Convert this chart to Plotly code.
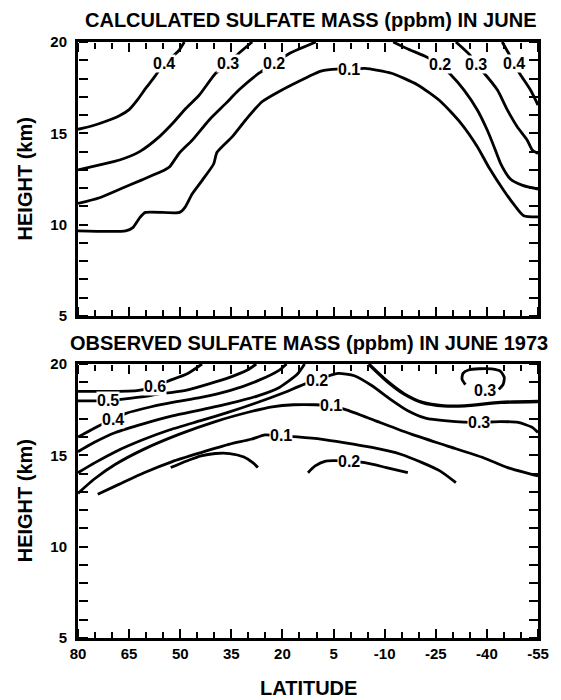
import plotly.graph_objects as go

# ---------------- data ----------------
LAT_TICKS = [80, 65, 50, 35, 20, 5, -10, -25, -40, -55]
LAT_TICK_TEXT = ["80", "65", "50", "35", "20", "5", "-10", "-25", "-40", "-55"]
LAT_MINOR = [v for v in range(80, -56, -5) if v not in LAT_TICKS]
HGT_TICKS = [5, 10, 15, 20]
HGT_MINOR = [v for v in range(5, 21) if v not in HGT_TICKS]

# ---- calculated (top panel) contour lines: latitude / height (km)
CALC_04L_LAT = [80, 76, 72, 68, 65, 62.5, 60, 57.5, 54.8, 52, 50.3, 48.8]
CALC_04L_HGT = [15.22, 15.4, 15.65, 15.95, 16.3, 16.85, 17.5, 18.1, 18.8, 19.25, 19.56, 20.0]
CALC_03L_LAT = [80, 73, 67.8, 61.9, 56.1, 52.2, 48.3, 44.4, 39.6, 36.1, 32.8, 28.9]
CALC_03L_HGT = [13.0, 13.3, 13.54, 14.0, 14.82, 15.55, 16.37, 17.1, 18.29, 18.8, 19.38, 20.0]
CALC_02L_LAT = [80, 73.9, 67.6, 61.4, 54.6, 53.1, 50.3, 46.4, 41.5, 36.6, 32.8, 26.9, 22.5, 18.1, 10.2]
CALC_02L_HGT = [11.16, 11.46, 11.95, 12.44, 12.99, 13.17, 13.91, 14.64, 15.73, 16.64, 17.37, 18.29, 18.8, 19.36, 20.0]
CALC_01_LAT = [80, 66.0, 63.9, 61.8, 60.2, 50.2, 48.6, 46.5, 43.5, 40.2, 39.2, 34.7, 30.8, 26.0,
               21.1, 12.4, 8.7, 4.0, 0.5, -4.2, -12.0, -19.7, -26.5, -32.4, -37.2, -40.7,
               -45.0, -48.2, -50.8, -55]
CALC_01_HGT = [9.66, 9.66, 9.84, 10.4, 10.67, 10.67, 10.95, 11.68, 12.44, 13.32, 13.96, 14.82, 15.73, 16.73,
               17.28, 18.1, 18.41, 18.52, 18.5, 18.56, 18.29, 17.65, 16.73, 15.55, 14.27, 13.1,
               11.86, 11.04, 10.49, 10.43]
CALC_02R_LAT = [-12.5, -17, -21.7, -26.3, -29.0, -33.3, -37.2, -40.1, -42.1, -44.0, -46.9, -50.5, -55]
CALC_02R_HGT = [20.0, 19.6, 19.23, 18.75, 18.29, 17.37, 16.28, 15.18, 14.27, 13.36, 12.5, 12.15, 11.95]
CALC_03R_LAT = [-30.9, -35.0, -36.9, -39.2, -43.1, -46.0, -48.9, -51.8, -53.3, -55]
CALC_03R_HGT = [20.0, 19.29, 18.75, 18.29, 17.37, 16.28, 15.36, 14.64, 14.09, 13.9]
CALC_04R_LAT = [-44.5, -46.9, -47.9, -49.9, -52.8, -55]
CALC_04R_HGT = [20.0, 19.2, 18.8, 18.19, 17.37, 16.55]

CALC_LABEL_TEXT = ["0.4", "0.3", "0.2", "0.1", "0.2", "0.3", "0.4"]
CALC_LABEL_LAT = [54.8, 36.1, 22.5, 0.5, -26.3, -36.9, -47.9]
CALC_LABEL_HGT = [18.8, 18.8, 18.8, 18.5, 18.75, 18.75, 18.8]

# ---- observed (bottom panel) contour lines
OBS_06_LAT = [80, 62.7, 57.5, 53.8, 48.1, 43.6]
OBS_06_HGT = [18.5, 18.54, 18.76, 19.05, 19.45, 20.0]
OBS_05_LAT = [80, 75.8, 71.1, 66.9, 60.6, 55.4, 52.3, 48.1, 41.8, 35.5, 30.3, 27.7]
OBS_05_HGT = [17.98, 17.98, 17.98, 18.08, 18.21, 18.39, 18.45, 18.57, 18.9, 19.27, 19.67, 20.0]
OBS_04_LAT = [80, 75.1, 70.1, 65.9, 58.5, 52.3, 43.9, 35.5, 27.2, 20.9, 18.8]
OBS_04_HGT = [16.0, 16.5, 16.95, 17.3, 17.66, 17.9, 18.17, 18.54, 19.09, 19.67, 20.0]
OBS_03_LAT = [80, 75.3, 69, 60.6, 52.3, 43.9, 35.5, 27.2, 20.9, 15.6, 13.5]
OBS_03_HGT = [15.2, 15.7, 16.25, 16.74, 17.16, 17.49, 17.84, 18.26, 18.72, 19.45, 20.0]
OBS_02_LAT = [80, 75, 69, 61, 53, 44, 36, 28, 20, 13.5, 9.9, 6.5, 3.6, -1.1, -6.3, -11.6, -16.8,
              -22.0, -28.3, -37.7, -44.0, -49.2, -53.4, -55]
OBS_02_HGT = [14.05, 14.6, 15.2, 15.85, 16.4, 16.9, 17.35, 17.85, 18.4, 18.9, 19.09, 19.35, 19.49,
              19.36, 18.81, 18.08, 17.44, 17.04, 16.89, 16.8, 16.85, 16.8, 16.52, 16.25]
OBS_TOPR_LAT = [-5.3, -10.5, -15.8, -21.0, -27.3, -33.5, -44.0, -55]
OBS_TOPR_HGT = [20.0, 19.09, 18.35, 17.9, 17.71, 17.71, 17.9, 17.95]
OBS_LOOP_LAT = [-33.7, -32.7, -33.0, -34.6, -37.7, -41.4, -44.0, -45.1, -44.8, -43.5]
OBS_LOOP_HGT = [18.87, 19.18, 19.49, 19.67, 19.74, 19.73, 19.6, 19.27, 18.9, 18.61]
OBS_01U_LAT = [80, 75.3, 69.0, 60.6, 50.2, 39.7, 29.2, 23.0, 16.7, 10.4, 5.7, 1.0, -7.4, -17.8,
               -28.3, -38.8, -46.1, -51.3, -55]
OBS_01U_HGT = [12.92, 13.69, 14.51, 15.34, 16.16, 16.85, 17.4, 17.66, 17.77, 17.77, 17.71, 17.48,
               16.89, 16.16, 15.52, 14.88, 14.33, 14.05, 13.87]
OBS_01L_LAT = [74.2, 68, 60.6, 52.3, 43.9, 35.5, 29.2, 25.1, 20.4, 15.6, 8.3, 2.0, -6.3, -14.7,
               -21.0, -26.2, -30.9]
OBS_01L_HGT = [12.87, 13.41, 14.05, 14.66, 15.15, 15.61, 15.88, 16.12, 16.07, 16.01, 15.88, 15.7,
               15.43, 15.06, 14.6, 14.15, 13.51]
OBS_02A_LAT = [52.8, 48.1, 43.9, 39.7, 35.5, 31.3, 28.7, 27.2]
OBS_02A_HGT = [14.33, 14.69, 14.97, 15.1, 15.1, 14.91, 14.6, 14.33]
OBS_02B_LAT = [12.5, 10.4, 7.3, 0.5, -4.2, -10.5, -16.8]
OBS_02B_HGT = [14.05, 14.42, 14.69, 14.69, 14.6, 14.33, 14.05]

OBS_LABEL_TEXT = ["0.6", "0.5", "0.4", "0.2", "0.1", "0.1", "0.2", "0.3", "0.3"]
OBS_LABEL_LAT = [57.5, 71.1, 69.8, 9.9, 5.7, 20.4, 0.5, -39.3, -37.7]
OBS_LABEL_HGT = [18.76, 17.98, 16.95, 19.09, 17.71, 16.07, 14.69, 18.54, 16.8]

# ---------------- figure ----------------
FONT = "Liberation Sans"
TOP_DOMAIN = [0.5403, 1.0]
BOT_DOMAIN = [0.0, 0.4597]
fig = go.Figure()


def add_line(lat, hgt, panel, width=2.8):
    xa, ya = ("x", "y") if panel == 1 else ("x2", "y2")
    fig.add_trace(go.Scatter(x=lat, y=hgt, mode="lines", xaxis=xa, yaxis=ya,
                             line=dict(color="black", width=width, shape="spline", smoothing=0.6),
                             hoverinfo="skip", showlegend=False))


for la, hg in [(CALC_04L_LAT, CALC_04L_HGT), (CALC_03L_LAT, CALC_03L_HGT),
               (CALC_02L_LAT, CALC_02L_HGT), (CALC_01_LAT, CALC_01_HGT),
               (CALC_02R_LAT, CALC_02R_HGT), (CALC_03R_LAT, CALC_03R_HGT),
               (CALC_04R_LAT, CALC_04R_HGT)]:
    add_line(la, hg, 1)

for la, hg in [(OBS_06_LAT, OBS_06_HGT), (OBS_05_LAT, OBS_05_HGT), (OBS_04_LAT, OBS_04_HGT),
               (OBS_03_LAT, OBS_03_HGT), (OBS_02_LAT, OBS_02_HGT),
               (OBS_LOOP_LAT, OBS_LOOP_HGT), (OBS_01U_LAT, OBS_01U_HGT),
               (OBS_01L_LAT, OBS_01L_HGT), (OBS_02A_LAT, OBS_02A_HGT), (OBS_02B_LAT, OBS_02B_HGT)]:
    add_line(la, hg, 2)
add_line(OBS_TOPR_LAT, OBS_TOPR_HGT, 2, width=3.4)

# empty traces so that every tick-only axis belongs to a drawn subplot
for xa, ya in [("x3", "y"), ("x4", "y"), ("x", "y3"), ("x", "y4"),
               ("x5", "y2"), ("x6", "y2"), ("x2", "y5"), ("x2", "y6")]:
    fig.add_trace(go.Scatter(x=[None], y=[None], xaxis=xa, yaxis=ya, mode="lines",
                             hoverinfo="skip", showlegend=False))

LABELFONT = dict(family=FONT, size=16, color="black", weight="bold")
annotations = []
for t, la, hg in zip(CALC_LABEL_TEXT, CALC_LABEL_LAT, CALC_LABEL_HGT):
    annotations.append(dict(text=t, x=la, y=hg, xref="x", yref="y", showarrow=False,
                            bgcolor="white", borderpad=0, font=LABELFONT))
for t, la, hg in zip(OBS_LABEL_TEXT, OBS_LABEL_LAT, OBS_LABEL_HGT):
    annotations.append(dict(text=t, x=la, y=hg, xref="x2", yref="y2", showarrow=False,
                            bgcolor="white", borderpad=0, font=LABELFONT))

BOLD20 = dict(family=FONT, size=20, color="black", weight="bold")
annotations += [
    dict(text="CALCULATED SULFATE MASS (ppbm) IN JUNE", x=0.505, y=1.0369, xref="paper",
         yref="paper", showarrow=False, xanchor="center", yanchor="middle", font=BOLD20),
    dict(text="OBSERVED SULFATE MASS (ppbm) IN JUNE 1973", x=0.502, y=0.495, xref="paper",
         yref="paper", showarrow=False, xanchor="center", yanchor="middle", font=BOLD20),
    dict(text="HEIGHT (km)", x=-0.1145, y=0.770, xref="paper", yref="paper", showarrow=False,
         textangle=-90, xanchor="center", yanchor="middle", font=BOLD20),
    dict(text="HEIGHT (km)", x=-0.1145, y=0.2299, xref="paper", yref="paper", showarrow=False,
         textangle=-90, xanchor="center", yanchor="middle", font=BOLD20),
    dict(text="LATITUDE", x=0.5, y=-0.0839, xref="paper", yref="paper", showarrow=False,
         xanchor="center", yanchor="middle", font=BOLD20),
]

TICKFONT = dict(family=FONT, size=15, color="black", weight="bold")


def main_x(show_labels, anchor):
    return dict(range=[80, -55], domain=[0, 1], anchor=anchor, tickmode="array",
                tickvals=LAT_TICKS, ticktext=LAT_TICK_TEXT, showticklabels=show_labels,
                ticks="", showline=True, linewidth=3, linecolor="black", mirror=True,
                showgrid=False, zeroline=False, tickfont=TICKFONT, fixedrange=True)


def main_y(domain, anchor):
    return dict(range=[5, 20], domain=domain, anchor=anchor, tickmode="array",
                tickvals=HGT_TICKS, ticks="", showline=True, linewidth=3, linecolor="black",
                mirror=True, showgrid=False, zeroline=False, tickfont=TICKFONT,
                ticklabelstandoff=5, fixedrange=True)


# tick-only axes: "outside" ticks of an axis placed on the opposite edge point into the plot
def tick_x(base, side, pos):
    return dict(overlaying=base, side=side, anchor="free", position=pos, range=[80, -55],
                tickmode="array", tickvals=LAT_TICKS, ticks="outside", ticklen=9,
                tickwidth=2, tickcolor="black", showticklabels=False, showline=False,
                showgrid=False, zeroline=False, fixedrange=True,
                minor=dict(tickmode="array", tickvals=LAT_MINOR, ticks="outside", ticklen=6,
                           tickwidth=2, tickcolor="black", showgrid=False))


def tick_y(base, side, pos):
    return dict(overlaying=base, side=side, anchor="free", position=pos, range=[5, 20],
                tickmode="array", tickvals=HGT_TICKS, ticks="outside", ticklen=9,
                tickwidth=2, tickcolor="black", showticklabels=False, showline=False,
                showgrid=False, zeroline=False, fixedrange=True,
                minor=dict(tickmode="array", tickvals=HGT_MINOR, ticks="outside", ticklen=9,
                           tickwidth=2, tickcolor="black", showgrid=False))


fig.update_layout(
    width=561, height=700,
    margin=dict(l=78, r=20, t=42, b=62),
    paper_bgcolor="white", plot_bgcolor="rgba(0,0,0,0)",
    xaxis=main_x(False, "y"),
    yaxis=main_y(TOP_DOMAIN, "x"),
    xaxis2=main_x(True, "y2"),
    yaxis2=main_y(BOT_DOMAIN, "x2"),
    xaxis3=tick_x("x", "top", TOP_DOMAIN[0]),
    xaxis4=tick_x("x", "bottom", TOP_DOMAIN[1]),
    yaxis3=tick_y("y", "right", 0.0),
    yaxis4=tick_y("y", "left", 1.0),
    xaxis5=tick_x("x2", "top", BOT_DOMAIN[0]),
    xaxis6=tick_x("x2", "bottom", BOT_DOMAIN[1]),
    yaxis5=tick_y("y2", "right", 0.0),
    yaxis6=tick_y("y2", "left", 1.0),
    annotations=annotations,
    showlegend=False,
)

fig.write_html("out.html")
